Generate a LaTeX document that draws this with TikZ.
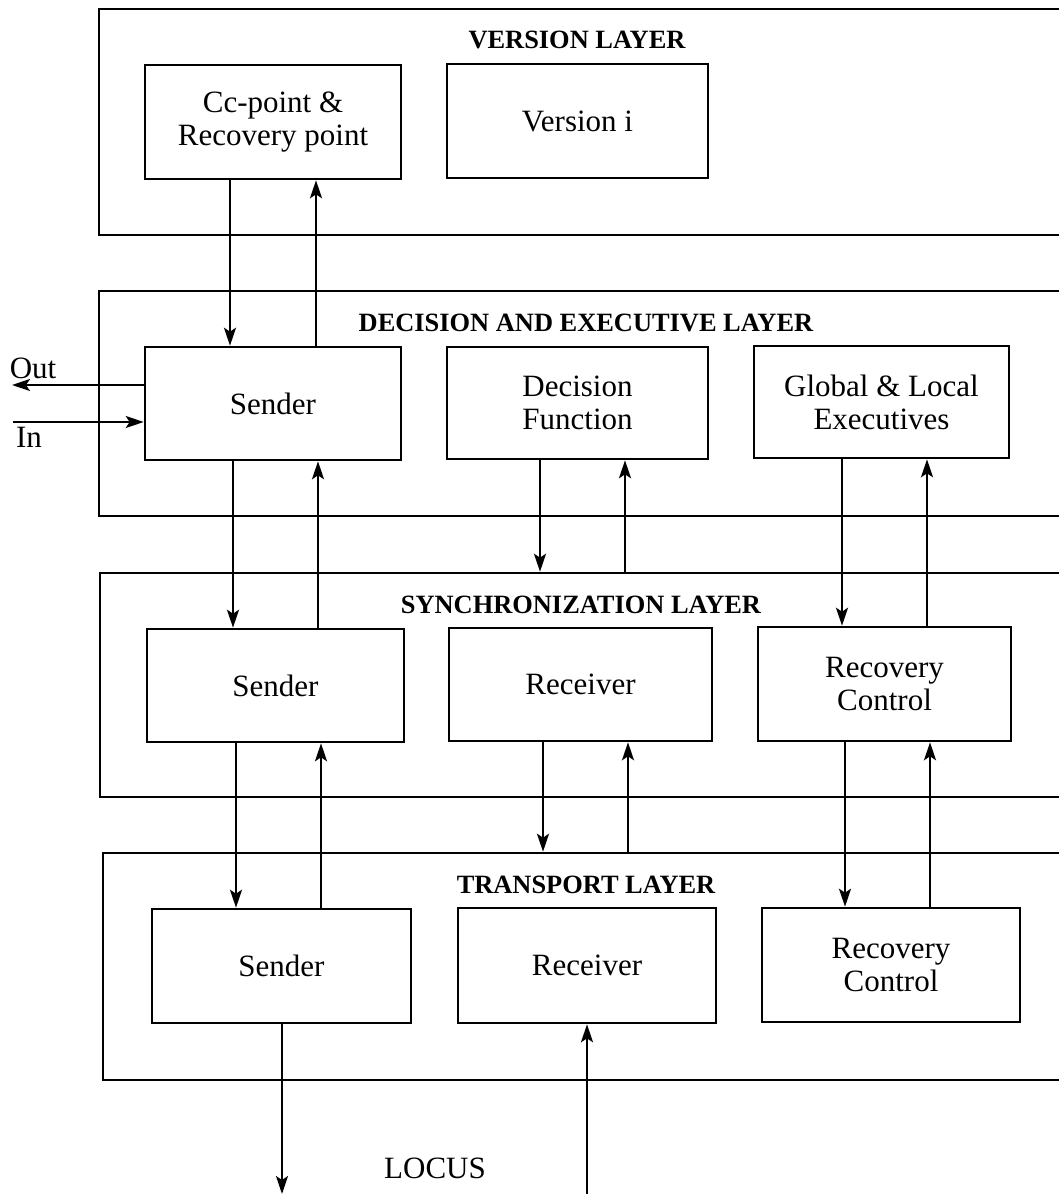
\documentclass[tikz,border=0pt]{standalone}
\usepackage{fontspec}
\setmainfont{Liberation Serif}
\usetikzlibrary{arrows.meta,fit}

\tikzset{
  layer/.style={draw, line width=1.3pt, inner sep=0pt},
  box/.style={draw, line width=1.3pt, inner sep=0pt, align=center,
    font=\fontsize{15.5}{16.5}\selectfont},
  bw/.style={minimum width=#1*0.5pt},
  bh/.style={minimum height=#1*0.5pt},
  title/.style={inner sep=0pt, font=\bfseries\fontsize{13.2}{15}\selectfont},
  plain/.style={inner sep=0pt, font=\fontsize{15.5}{16.5}\selectfont},
  arr/.style={line width=1.1pt, -{Stealth[length=9pt,width=6pt,inset=2pt]}}
}

\begin{document}
\begin{tikzpicture}[x=0.5pt,y=-0.5pt]
\path[use as bounding box, clip] (0,0) rectangle (1059,1194);
\fill[white] (0,0) rectangle (1059,1194);

% layer frames (open to the right)
\node[layer, fit={(99,9)(1080,235)}]    (vl) {};
\node[layer, fit={(99,291)(1080,516)}]  (dl) {};
\node[layer, fit={(100,573)(1080,797)}] (sl) {};
\node[layer, fit={(103,853)(1080,1080)}] (tl) {};

% layer titles
\node[title] (vlt) at (577,40)  {VERSION LAYER};
\node[title] (dlt) at (586,323) {DECISION AND EXECUTIVE LAYER};
\node[title] (slt) at (581,605) {SYNCHRONIZATION LAYER};
\node[title] (tlt) at (586,885) {TRANSPORT LAYER};

% version layer
\node[box, bw=256, bh=114] (cc)  at (273,122)   {Cc-point \&\\Recovery point};
\node[box, bw=261, bh=114] (ver) at (577.5,121) {Version i};

% decision and executive layer
\node[box, bw=256, bh=113] (dsend) at (273,403.5) {Sender};
\node[box, bw=261, bh=112] (dfun)  at (577.5,403) {Decision\\Function};
\node[box, bw=255, bh=112] (gle)   at (881.5,402) {Global \& Local\\Executives};

% synchronization layer
\node[box, bw=257, bh=113] (ssend) at (275.5,685.5) {Sender};
\node[box, bw=263, bh=113] (srec)  at (580.5,684.5) {Receiver};
\node[box, bw=253, bh=114] (src)   at (884.5,684)   {Recovery\\Control};

% transport layer
\node[box, bw=259, bh=114] (tsend) at (281.5,966)   {Sender};
\node[box, bw=258, bh=115] (trec)  at (587,965.5)   {Receiver};
\node[box, bw=258, bh=114] (trc)   at (891,965)     {Recovery\\Control};

% version <-> decision
\draw[arr] (cc.south -| 230,0) -- (dsend.north -| 230,0);
\draw[arr] (dsend.north -| 316,0) -- (cc.south -| 316,0);

% decision <-> synchronization
\draw[arr] (dsend.south -| 233,0) -- (ssend.north -| 233,0);
\draw[arr] (ssend.north -| 318,0) -- (dsend.south -| 318,0);
\draw[arr] (dfun.south -| 540,0) -- (sl.north -| 540,0);
\draw[arr] (sl.north -| 625,0) -- (dfun.south -| 625,0);
\draw[arr] (gle.south -| 842,0) -- (src.north -| 842,0);
\draw[arr] (src.north -| 927,0) -- (gle.south -| 927,0);

% synchronization <-> transport
\draw[arr] (ssend.south -| 236,0) -- (tsend.north -| 236,0);
\draw[arr] (tsend.north -| 321,0) -- (ssend.south -| 321,0);
\draw[arr] (srec.south -| 543,0) -- (tl.north -| 543,0);
\draw[arr] (tl.north -| 628,0) -- (srec.south -| 628,0);
\draw[arr] (src.south -| 845,0) -- (trc.north -| 845,0);
\draw[arr] (trc.north -| 930,0) -- (src.south -| 930,0);

% external input and output
\coordinate (outend) at (12,385);
\coordinate (instart) at (13,422);
\draw[arr] (dsend.west |- outend) -- (outend);
\draw[arr] (instart) -- (dsend.west |- instart);
\node[plain] (outlbl) at (33,368) {Out};
\node[plain] (inlbl)  at (29,437) {In};

% network below
\coordinate (locout) at (282,1194);
\coordinate (locin)  at (587,1197);
\draw[arr] (tsend.south -| locout) -- (locout);
\draw[arr] (locin) -- (trec.south -| locin);
\node[plain] (locus) at (435,1168) {LOCUS};
\end{tikzpicture}
\end{document}
